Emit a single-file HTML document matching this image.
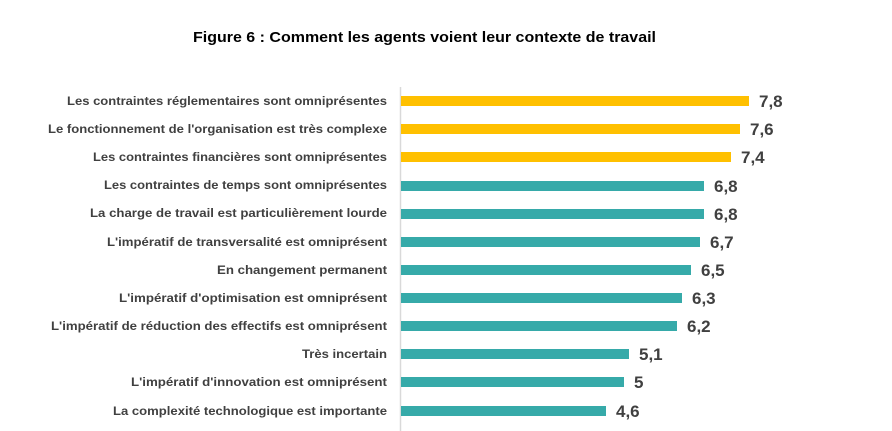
<!DOCTYPE html>
<html><head><meta charset="utf-8"><style>body{margin:0;background:#fff}svg{display:block}</style></head>
<body>
<svg width="892" height="431" xmlns="http://www.w3.org/2000/svg" font-family="Liberation Sans, sans-serif" font-weight="bold">
<text x="193" y="42" font-size="15" fill="#000" textLength="463" lengthAdjust="spacingAndGlyphs">Figure 6 : Comment les agents voient leur contexte de travail</text>
<line x1="400.5" y1="87" x2="400.5" y2="431" stroke="#d9d9d9" stroke-width="1.5"/>
<g font-size="12" fill="#404040" text-anchor="end">
<text x="387" y="105" textLength="320" lengthAdjust="spacingAndGlyphs">Les contraintes réglementaires sont omniprésentes</text>
<text x="387" y="133" textLength="339" lengthAdjust="spacingAndGlyphs">Le fonctionnement de l'organisation est très complexe</text>
<text x="387" y="161" textLength="294" lengthAdjust="spacingAndGlyphs">Les contraintes financières sont omniprésentes</text>
<text x="387" y="189" textLength="283" lengthAdjust="spacingAndGlyphs">Les contraintes de temps sont omniprésentes</text>
<text x="387" y="217" textLength="297" lengthAdjust="spacingAndGlyphs">La charge de travail est particulièrement lourde</text>
<text x="387" y="246" textLength="280" lengthAdjust="spacingAndGlyphs">L'impératif de transversalité est omniprésent</text>
<text x="387" y="274" textLength="170" lengthAdjust="spacingAndGlyphs">En changement permanent</text>
<text x="387" y="302" textLength="268" lengthAdjust="spacingAndGlyphs">L'impératif d'optimisation est omniprésent</text>
<text x="387" y="330" textLength="336" lengthAdjust="spacingAndGlyphs">L'impératif de réduction des effectifs est omniprésent</text>
<text x="387" y="358" textLength="85" lengthAdjust="spacingAndGlyphs">Très incertain</text>
<text x="387" y="386" textLength="256" lengthAdjust="spacingAndGlyphs">L'impératif d'innovation est omniprésent</text>
<text x="387" y="415" textLength="274" lengthAdjust="spacingAndGlyphs">La complexité technologique est importante</text>
</g>
<g>
<rect x="401" y="96" width="348" height="10" fill="#ffc000"/>
<rect x="401" y="124" width="339" height="10" fill="#ffc000"/>
<rect x="401" y="152" width="330" height="10" fill="#ffc000"/>
<rect x="401" y="181" width="303" height="10" fill="#36aaa9"/>
<rect x="401" y="209" width="303" height="10" fill="#36aaa9"/>
<rect x="401" y="237" width="299" height="10" fill="#36aaa9"/>
<rect x="401" y="265" width="290" height="10" fill="#36aaa9"/>
<rect x="401" y="293" width="281" height="10" fill="#36aaa9"/>
<rect x="401" y="321" width="276" height="10" fill="#36aaa9"/>
<rect x="401" y="349" width="228" height="10" fill="#36aaa9"/>
<rect x="401" y="377" width="223" height="10" fill="#36aaa9"/>
<rect x="401" y="406" width="205" height="10" fill="#36aaa9"/>
</g>
<g font-size="17" fill="#404040">
<text x="759" y="107">7,8</text>
<text x="750" y="135">7,6</text>
<text x="741" y="163">7,4</text>
<text x="714" y="192">6,8</text>
<text x="714" y="220">6,8</text>
<text x="710" y="248">6,7</text>
<text x="701" y="276">6,5</text>
<text x="692" y="304">6,3</text>
<text x="687" y="332">6,2</text>
<text x="639" y="360">5,1</text>
<text x="634" y="388">5</text>
<text x="616" y="417">4,6</text>
</g>
</svg>
</body></html>
